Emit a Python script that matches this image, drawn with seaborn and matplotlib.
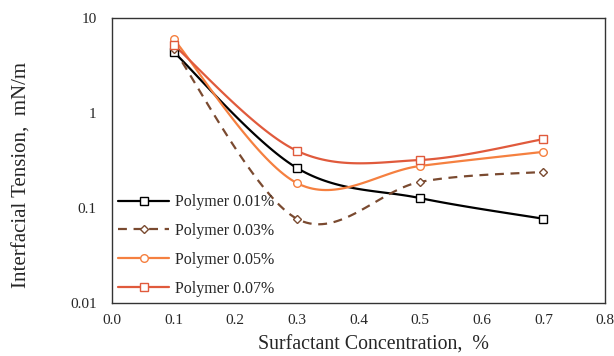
import matplotlib
matplotlib.use("Agg")
import matplotlib.pyplot as plt
from matplotlib.lines import Line2D
import numpy as np
import pandas as pd
import seaborn as sns

# data
conc = [0.1, 0.3, 0.5, 0.7]
ift_001 = [4.4, 0.264, 0.127, 0.077]
ift_003 = [4.7, 0.077, 0.188, 0.240]
ift_005 = [6.0, 0.183, 0.277, 0.390]
ift_007 = [5.2, 0.400, 0.320, 0.530]

labels = ["Polymer 0.01%", "Polymer 0.03%", "Polymer 0.05%", "Polymer 0.07%"]
colors = ["#000000", "#7A4A30", "#F58040", "#E05A3C"]
markers = ["s", "D", "o", "s"]
msizes = [5.5, 4.5, 5.5, 5.5]
dashes = ["-", (0, (4, 3)), "-", "-"]


def smooth(x, y, n=40):
    # excel-like smoothed line (catmull-rom in x / log y)
    px = np.asarray(x, float)
    py = np.log10(np.asarray(y, float))
    P = np.column_stack([px, py])
    P = np.vstack([P[0], P, P[-1]])
    out = []
    for i in range(1, len(P) - 2):
        p0, p1, p2, p3 = P[i - 1], P[i], P[i + 1], P[i + 2]
        c1 = p1 + (p2 - p0) / 6
        c2 = p2 - (p3 - p1) / 6
        t = np.linspace(0, 1, n)[:, None]
        b = ((1 - t) ** 3) * p1 + 3 * ((1 - t) ** 2) * t * c1 + 3 * (1 - t) * t ** 2 * c2 + t ** 3 * p2
        out.append(b)
    b = np.vstack(out)
    return b[:, 0], 10 ** b[:, 1]


sns.set_style("white")
plt.rcParams["font.family"] = ["Liberation Serif", "DejaVu Serif"]

fig = plt.figure(figsize=(6.14, 3.56), dpi=100)
ax = fig.add_axes([0.1824, 0.1489, 0.803, 0.8006])

series = [ift_001, ift_003, ift_005, ift_007]
for vals, lab, col, mk, ms, ls in zip(series, labels, colors, markers, msizes, dashes):
    sx, sy = smooth(conc, vals)
    df = pd.DataFrame({"x": sx, "y": sy})
    sns.lineplot(data=df, x="x", y="y", ax=ax, color=col, lw=1.6,
                 linestyle=ls, sort=False, estimator=None)
    ax.plot(conc, vals, linestyle="none", marker=mk, ms=ms, mfc="white",
            mec=col, mew=1.0, zorder=3)

ax.set_yscale("log")
ax.set_xlim(0, 0.8)
ax.set_ylim(0.01, 10)
ax.set_xticks(np.arange(0, 0.81, 0.1))
ax.set_xticklabels([f"{v:.1f}" for v in np.arange(0, 0.81, 0.1)])
ax.set_yticks([0.01, 0.1, 1, 10])
ax.set_yticklabels(["0.01", "0.1", "1", "10"])
ax.yaxis.set_minor_locator(matplotlib.ticker.NullLocator())
ax.tick_params(axis="x", direction="in", length=4, width=0.8, labelsize=11, pad=8)
ax.tick_params(axis="y", direction="in", length=4, width=0.8, labelsize=11, pad=11)
for s in ax.spines.values():
    s.set_color("#333333")
    s.set_linewidth(1.0)

ax.set_xlabel("Surfactant Concentration,  %", fontsize=14.3, va="center")
ax.set_ylabel("Interfacial Tension,  mN/m", fontsize=15, va="center")
ax.xaxis.set_label_coords(0.531, -0.147)
ax.yaxis.set_label_coords(-0.183, 0.449)

handles = [Line2D([0], [0], color=c, lw=1.6, linestyle=ls, marker=m, ms=ms,
                  mfc="white", mec=c, mew=1.0)
           for c, ls, m, ms in zip(colors, dashes, markers, msizes)]
ax.legend(handles, labels, loc="lower left", frameon=False, fontsize=11.5,
          handlelength=3.2, labelspacing=0.8, handletextpad=0.35,
          borderpad=0.3, borderaxespad=0.1, bbox_to_anchor=(0.0, 0.0))

fig.savefig("out.png", dpi=100)
